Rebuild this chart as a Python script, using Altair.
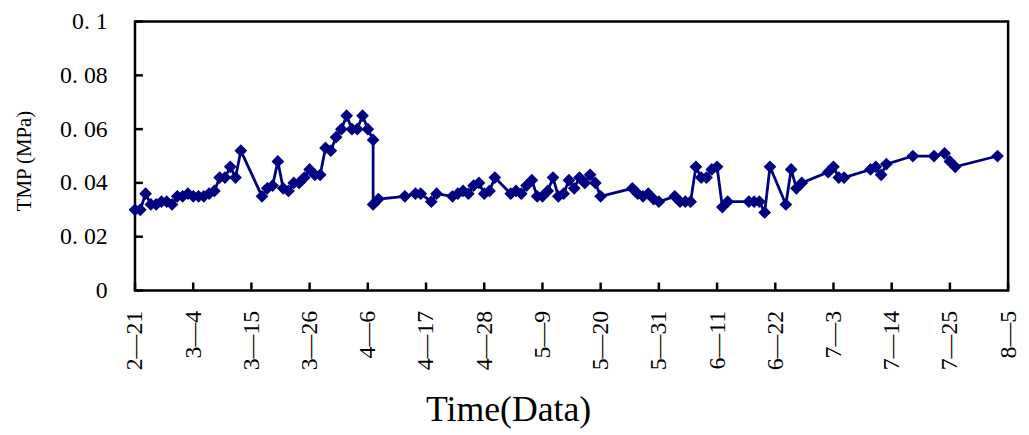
import altair as alt
import pandas as pd

# ---- data ----
dates = [
    "2-21", "2-22", "2-23", "2-24", "2-25", "2-26", "2-27", "2-28", "3-1", "3-2",
    "3-3", "3-4", "3-5", "3-6", "3-7", "3-8", "3-9", "3-10", "3-11", "3-12",
    "3-13", "3-17", "3-18", "3-19", "3-20", "3-21", "3-22", "3-23", "3-24", "3-25",
    "3-26", "3-27", "3-28", "3-29", "3-30", "3-31", "4-1", "4-2", "4-3", "4-4",
    "4-5", "4-6", "4-7", "4-7", "4-8", "4-13", "4-15", "4-16", "4-18", "4-19",
    "4-22", "4-23", "4-24", "4-25", "4-26", "4-27", "4-28", "4-29", "4-30", "5-3",
    "5-4", "5-5", "5-6", "5-7", "5-8", "5-9", "5-10", "5-11", "5-12", "5-13",
    "5-14", "5-15", "5-16", "5-17", "5-18", "5-19", "5-20", "5-26", "5-27", "5-28",
    "5-29", "5-30", "5-31", "6-3", "6-4", "6-5", "6-6", "6-7", "6-8", "6-9",
    "6-10", "6-11", "6-12", "6-13", "6-17", "6-18", "6-19", "6-20", "6-21", "6-24",
    "6-25", "6-26", "6-27", "7-2", "7-3", "7-4", "7-5", "7-10", "7-11", "7-12",
    "7-13", "7-18", "7-22", "7-24", "7-25", "7-26", "8-3",
]
tmp = [
    0.030, 0.030, 0.036, 0.032, 0.032, 0.033, 0.033, 0.032, 0.035, 0.035,
    0.036, 0.035, 0.035, 0.035, 0.036, 0.037, 0.042, 0.042, 0.046, 0.042,
    0.052, 0.035, 0.038, 0.039, 0.048, 0.038, 0.037, 0.040, 0.040, 0.042,
    0.045, 0.043, 0.043, 0.053, 0.052, 0.057, 0.060, 0.065, 0.060, 0.060,
    0.065, 0.060, 0.056, 0.032, 0.034, 0.035, 0.036, 0.036, 0.033, 0.036,
    0.035, 0.036, 0.037, 0.036, 0.039, 0.040, 0.036, 0.037, 0.042, 0.036,
    0.037, 0.036, 0.039, 0.041, 0.035, 0.035, 0.037, 0.042, 0.035, 0.036,
    0.041, 0.038, 0.042, 0.040, 0.043, 0.040, 0.035, 0.038, 0.036, 0.035,
    0.036, 0.034, 0.033, 0.035, 0.033, 0.033, 0.033, 0.046, 0.042, 0.042,
    0.045, 0.046, 0.031, 0.033, 0.033, 0.033, 0.033, 0.029, 0.046, 0.032,
    0.045, 0.038, 0.040, 0.044, 0.046, 0.042, 0.042, 0.045, 0.046, 0.043,
    0.047, 0.050, 0.050, 0.051, 0.048, 0.046, 0.050,
]
tick_dates = ["2-21", "3-4", "3-15", "3-26", "4-6", "4-17", "4-28", "5-9",
              "5-20", "5-31", "6-11", "6-22", "7-3", "7-14", "7-25", "8-5"]
y_ticks = [0, 0.02, 0.04, 0.06, 0.08, 0.1]

df = pd.DataFrame({"date": dates, "tmp": tmp, "order": list(range(len(dates)))})
xt_df = pd.DataFrame({"date": tick_dates})
yt_df = pd.DataFrame({"v": y_ticks})


def to_dt(s):
    m, d = s.split("-")
    return alt.DateTime(year=1900, month=int(m), date=int(d))


x_values = [to_dt(s) for s in tick_dates]
x_domain = [to_dt(tick_dates[0]), to_dt(tick_dates[-1])]

W, H = 880, 271
NAVY = "#000080"
FONT = "Liberation Serif"
TICK_LEN = 8

x_scale = alt.Scale(domain=x_domain)
y_scale = alt.Scale(domain=[0, 0.1], nice=False, zero=True)

base = alt.Chart(df).transform_calculate(t="timeParse(datum.date, '%m-%d')")

x_main = alt.X(
    "t:T",
    scale=x_scale,
    axis=alt.Axis(
        values=x_values, format="%-m\u2014%-d", labelAngle=270, labelAlign="right",
        labelBaseline="middle", labelPadding=20, ticks=False, grid=False,
        domain=False, labelFont=FONT, labelFontSize=24, labelColor="black",
        title="Time(Data)", titleFontSize=36, titleFont=FONT,
        titleFontWeight="normal", titleColor="black", titleX=376, titleY=131,
        titleAlign="center", titleBaseline="alphabetic", titleAngle=0,
        labelFlush=False, labelOverlap=False,
    ),
)
y_main = alt.Y(
    "tmp:Q",
    scale=y_scale,
    axis=alt.Axis(
        values=y_ticks,
        labelExpr="replace(format(datum.value, '.2~f'), '.', '. ')",
        labelPadding=28, ticks=False, grid=False, domain=False,
        labelFont=FONT, labelFontSize=24, labelColor="black",
        title="TMP (MPa)", titleFontSize=21, titleFont=FONT,
        titleFontWeight="normal", titleColor="black", titleX=-111, titleY=140,
        titleAngle=270, titleAlign="center", titleBaseline="middle",
        labelFlush=False, labelOverlap=False,
    ),
)

line = base.mark_line(color=NAVY, strokeWidth=2.8).encode(
    x=x_main, y=y_main, order="order:Q"
)
points = base.mark_point(
    shape="diamond", filled=True, size=165, color=NAVY, opacity=1
).encode(x=alt.X("t:T"), y=alt.Y("tmp:Q"))

# inward-pointing tick marks along the bottom and left edges
x_ticks = (
    alt.Chart(xt_df)
    .transform_calculate(t="timeParse(datum.date, '%m-%d')")
    .mark_rule(color="black", strokeWidth=2.5)
    .encode(x=alt.X("t:T"), y=alt.value(H), y2=alt.value(H - TICK_LEN))
)
y_ticks_layer = (
    alt.Chart(yt_df)
    .mark_rule(color="black", strokeWidth=2.5)
    .encode(y=alt.Y("v:Q"), x=alt.value(0), x2=alt.value(TICK_LEN))
)

chart = (
    alt.layer(x_ticks, y_ticks_layer, line, points)
    .properties(
        width=W,
        height=H,
        autosize=alt.AutoSizeParams(type="none"),
        padding={"left": 128, "top": 12, "right": 13, "bottom": 144},
        background="white",
    )
    .configure_view(stroke="black", strokeWidth=2.5)
)

chart.save("out.html", embed_options={"renderer": "svg", "actions": False})
